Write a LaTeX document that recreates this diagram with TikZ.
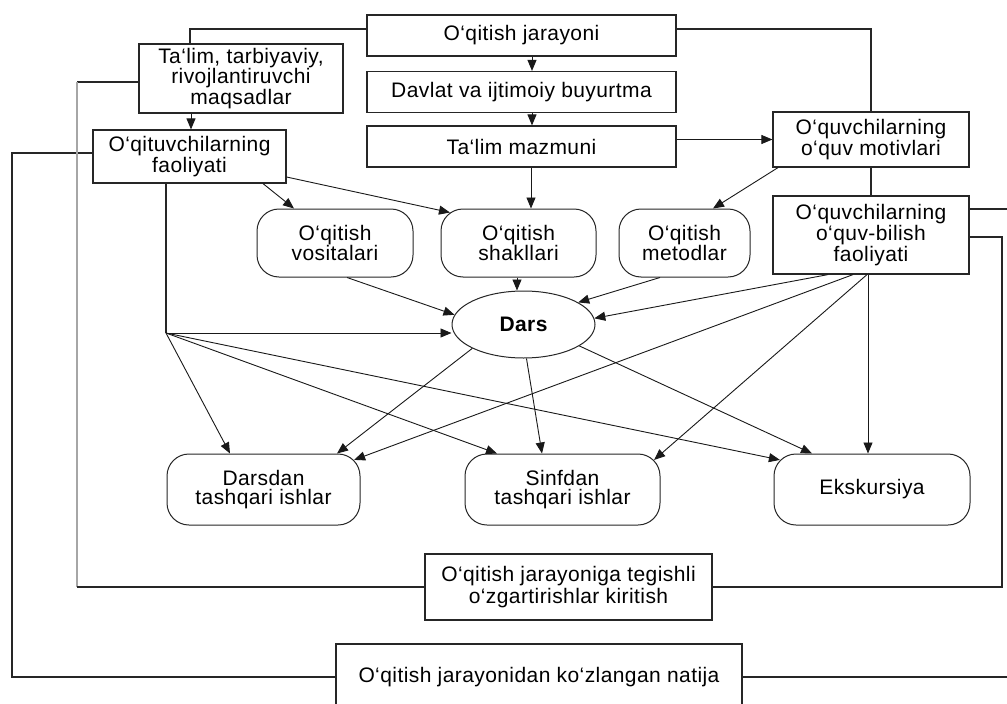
\documentclass[tikz,border=0pt]{standalone}
\usepackage{fontspec}
\setmainfont{Liberation Sans}[LetterSpace=2]
\usetikzlibrary{arrows.meta,shapes.geometric,calc}
\begin{document}
\begin{tikzpicture}[x=1pt,y=-1pt,
  box/.style={draw=black!85, line width=1.2pt, inner sep=0pt, align=center,
    font=\fontsize{21}{19.5}\selectfont, text=black},
  rbox/.style={box, rounded corners=22pt, line width=1pt},
  arr/.style={draw=black!90, -{Triangle[length=11pt,width=9pt]}, line width=0.9pt},
  conn/.style={draw=black!85, line width=1.2pt},
  grayline/.style={draw=black!35, line width=2pt},
]
\fill[white] (0,0) rectangle (1007,704);
\useasboundingbox (0,0) rectangle (1007,704);

% top column
\node[box, minimum width=309pt, minimum height=41pt] (jar) at (521.5,35.5) {O‘qitish jarayoni};
\node[box, minimum width=309pt, minimum height=41pt] (dav) at (521.5,92) {Davlat va ijtimoiy buyurtma};
\node[box, minimum width=309pt, minimum height=41pt] (maz) at (521.5,146.5) {Ta‘lim mazmuni};
\node[box, minimum width=204pt, minimum height=69pt, font=\fontsize{21}{16}\selectfont] (tal) at (241,78.5) {Ta‘lim, tarbiyaviy,\\ rivojlantiruvchi\\ maqsadlar};
\node[box, minimum width=193pt, minimum height=53pt] (oqf) at (189.5,156.5) {O‘qituvchilarning\\ faoliyati};
\node[box, minimum width=196pt, minimum height=55pt] (mot) at (871,139.5) {O‘quvchilarning\\ o‘quv motivlari};
\node[box, minimum width=196pt, minimum height=78pt] (bil) at (871,235) {O‘quvchilarning\\ o‘quv-bilish\\ faoliyati};

% middle row
\node[rbox, minimum width=156pt, minimum height=68pt] (vos) at (335,243) {O‘qitish\\ vositalari};
\node[rbox, minimum width=155pt, minimum height=68pt] (sha) at (518.5,243) {O‘qitish\\ shakllari};
\node[rbox, minimum width=131pt, minimum height=68pt] (met) at (684.5,243) {O‘qitish\\ metodlar};
\node[ellipse, draw=black!85, line width=1pt, minimum width=143pt, minimum height=67pt, inner sep=0pt,
  font=\bfseries\fontsize{21}{19.5}\selectfont, text=black] (dars) at (523.5,324.5) {Dars};

% bottom row
\node[rbox, minimum width=193pt, minimum height=71pt] (dtash) at (263.5,489.5) {Darsdan\\ tashqari ishlar};
\node[rbox, minimum width=195pt, minimum height=71pt] (stash) at (562.5,489.5) {Sinfdan\\ tashqari ishlar};
\node[rbox, minimum width=196pt, minimum height=71pt] (eks) at (872,489.5) {Ekskursiya};

\node[box, minimum width=287pt, minimum height=66pt, font=\fontsize{21}{21.5}\selectfont] (ozg) at (568.5,587) {O‘qitish jarayoniga tegishli\\ o‘zgartirishlar kiritish};
\node[box, minimum width=406pt, minimum height=66pt] (nat) at (539,677) {O‘qitish jarayonidan ko‘zlangan natija};

% plain connectors at the top
\draw[conn] ([yshift=6.5pt]jar.west) -| ([xshift=-51pt]tal.north);
\draw[conn] ([yshift=6.5pt]jar.east) -| (mot.north);
\draw[conn] (mot.south) -- (bil.north);

% arrows in the top part
\draw[arr] ([xshift=10.5pt]jar.south) -- ([xshift=10.5pt]dav.north);
\draw[arr] ([xshift=10.5pt]dav.south) -- ([xshift=10.5pt]maz.north);
\draw[arr] (maz.east |- mot.west) -- (mot.west);
\draw[arr] ([xshift=9.5pt]maz.south) -- ([xshift=9.5pt]maz.south |- sha.north);
\draw[arr] ([xshift=-50pt]tal.south) -- ([xshift=-50pt]tal.south |- oqf.north);
\draw[arr] ([xshift=73.5pt]oqf.south) -- ([xshift=-41pt]vos.north);
\draw[arr] ([yshift=-20.5pt]oqf.east) -- ([xshift=-68.5pt,yshift=-4pt]sha.north);
\draw[arr] ([xshift=-93pt]mot.south) -- ([xshift=28.5pt]met.north);

% into Dars
\draw[arr] ([xshift=12pt]vos.south) -- (dars.172);
\draw[arr] ([xshift=-1.5pt]sha.south) -- ([xshift=-1.5pt]sha.south |- dars.north);
\draw[arr] ([xshift=-24.5pt]met.south) -- (dars.22);
\draw[arr] ([xshift=-43pt]bil.south) -- (dars.5);

% teacher branch
\coordinate (br) at (166,333);
\draw[conn] ([xshift=-23.5pt]oqf.south) -- (br);
\draw[arr] (br) -- (br -| dars.west);
\draw[arr] (br) -- ([xshift=-33.5pt]dtash.north);
\draw[arr] (br) -- ([xshift=-65.5pt]stash.north);
\draw[arr] (br) -- ([xshift=6.4pt,yshift=-6.4pt]eks.north west);

% from Dars
\draw[arr] (dars.205) -- ([xshift=73.5pt]dtash.north);
\draw[arr] (dars.275) -- ([xshift=-20.5pt]stash.north);
\draw[arr] (dars.339) -- ([xshift=-60pt]eks.north);

% from pupils' activity
\draw[arr] ([xshift=-18pt]bil.south) -- ([xshift=-6.4pt,yshift=-6.4pt]dtash.north east);
\draw[arr] ([xshift=-4pt]bil.south) -- ([xshift=-6.4pt,yshift=-6.4pt]stash.north east);
\draw[arr] ([xshift=-3pt]bil.south) -- ([xshift=-3pt]bil.south |- eks.north);

% feedback loops
\coordinate (lc) at (12,677);
\draw[conn] ([yshift=3.5pt]oqf.west) -| (lc) -- (nat.west);
\coordinate (gt) at (77,82);
\coordinate (gb) at (77,587);
\draw[conn] ([yshift=-3.5pt]tal.west) -- (gt);
\draw[grayline] (gt) -- (gb);
\draw[conn] (gb) -- (ozg.west);
\coordinate (rc) at (1002,587);
\draw[conn] ([yshift=-2pt]bil.east) -| (rc) -- (ozg.east);
\coordinate (re1) at (1007,209);
\draw[conn] ([yshift=26pt]bil.east) -- (re1);
\coordinate (re2) at (1007,677);
\draw[conn] (nat.east) -- (re2);
\end{tikzpicture}
\end{document}
